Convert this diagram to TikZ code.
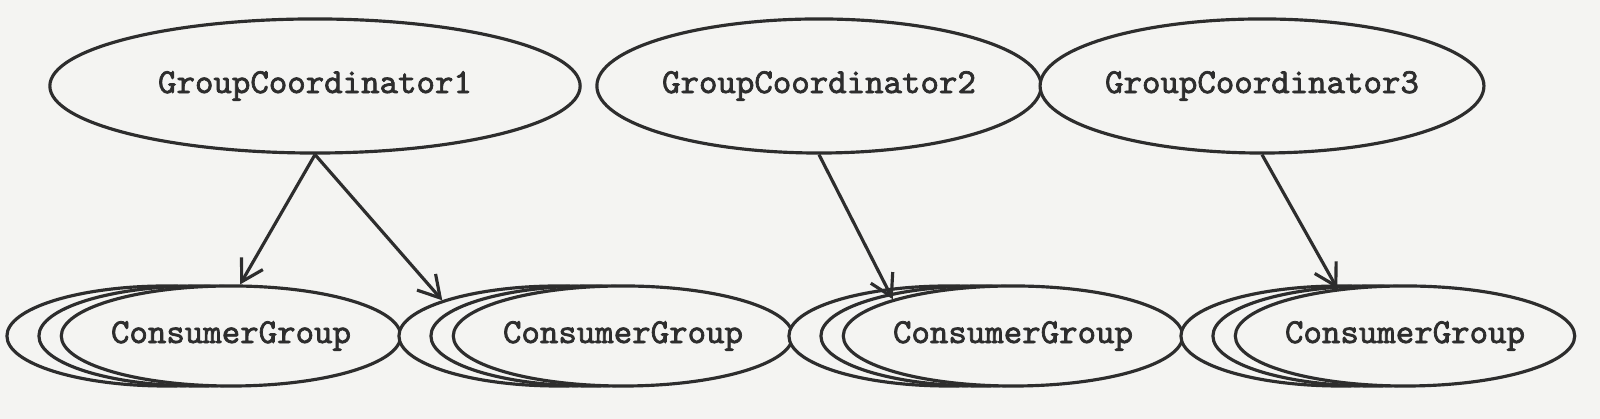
\documentclass[tikz,border=0pt]{standalone}
\usepackage{fontspec}
\setmonofont[AutoFakeBold=2]{Latin Modern Mono}
\usepackage{tikz}
\usetikzlibrary{shapes.geometric,arrows.meta}
\definecolor{paper}{RGB}{244,244,242}
\definecolor{ink}{RGB}{45,45,45}

\begin{document}
\begin{tikzpicture}[x=0.01cm,y=0.01cm,line width=0.9pt,
    every node/.style={font=\ttfamily\bfseries\fontsize{10}{12}\selectfont,text=ink},
    coordbox/.style={ellipse,draw=ink,fill=paper,inner sep=0pt,minimum height=1.34cm},
    groupbox/.style={ellipse,draw=ink,fill=paper,inner sep=0pt,minimum width=3.2cm,minimum height=1cm},
    link/.style={draw=ink,-{Straight Barb[length=6pt,width=7pt]}}]
    \useasboundingbox (0,0) rectangle (1600,419);
    \fill[paper] (0,0) rectangle (1600,419);
    % coordinators
    \node[coordbox,minimum width=5.30cm] (gc1) at (315,333) {GroupCoordinator1};
    \node[coordbox,minimum width=4.44cm] (gc2) at (819,333) {GroupCoordinator2};
    \node[coordbox,minimum width=4.10cm] (gc3) at (1262,333) {GroupCoordinator3};
    % consumer group stacks, back to front
    \foreach \x/\n in {231/1,623/2,1013/3,1405/4} {
      \node[groupbox] (back\n) at (\x-64,83) {};
      \node[groupbox] (mid\n) at (\x-32,83) {};
      \node[groupbox] (cg\n) at (\x,83) {ConsumerGroup};
    }
    % links
    \draw[link] (gc1.south) -- (cg1.80);
    \draw[link] (gc1.south) -- (back2.163);
    \draw[link] (gc2.south) -- (cg3.163);
    \draw[link] (gc3.south) -- (cg4.145);
  \end{tikzpicture}
\end{document}
